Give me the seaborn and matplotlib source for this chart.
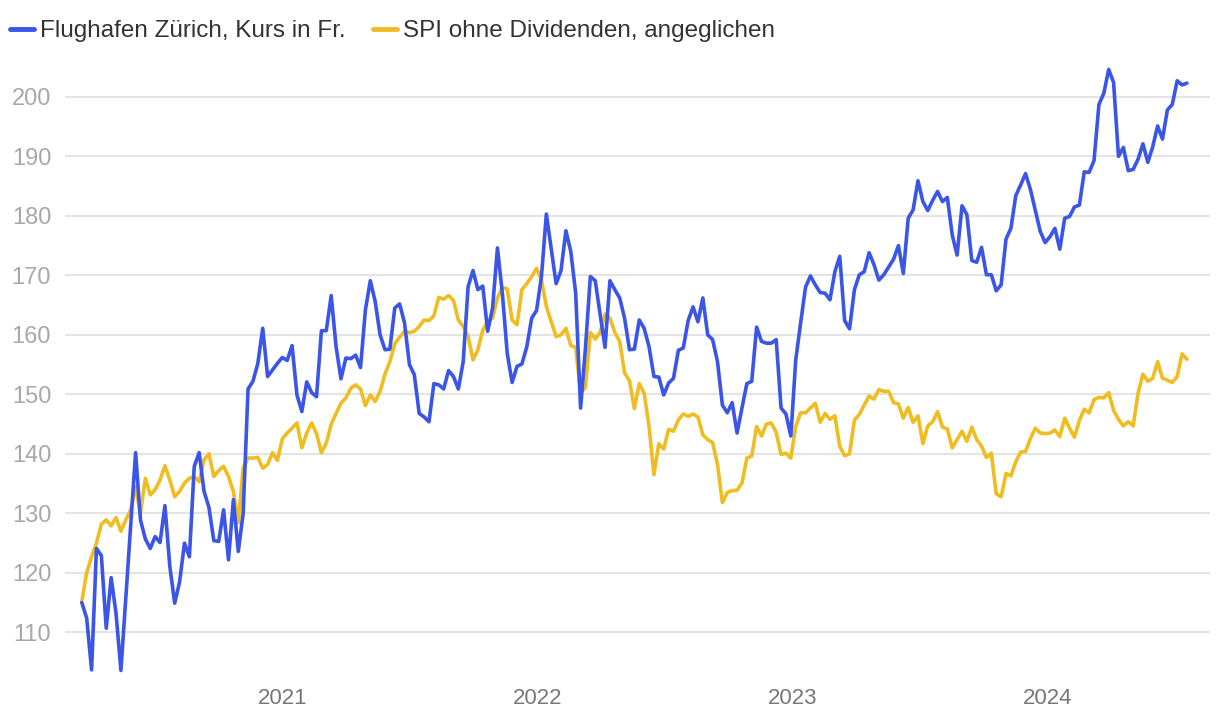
import numpy as np
import pandas as pd
import matplotlib
matplotlib.use("Agg")
import matplotlib.pyplot as plt
import seaborn as sns

# weekly closes (Fridays)
dates = pd.date_range("2020-03-20", "2024-07-19", freq="7D")

flughafen = [
    115.0, 112.4, 103.7, 124.1, 122.9, 110.7, 119.2, 113.2, 103.6, 115.8,
    127.8, 140.2, 128.9, 125.7, 124.1, 126.1, 125.1, 131.3, 121.1, 114.9,
    118.5, 125.0, 122.7, 137.9, 140.2, 133.7, 131.0, 125.4, 125.3, 130.6,
    122.2, 132.3, 123.6, 130.0, 150.9, 152.2, 155.2, 161.1, 153.0, 154.1,
    155.2, 156.2, 155.7, 158.2, 149.9, 147.1, 152.1, 150.3, 149.6, 160.7,
    160.7, 166.6, 158.0, 152.6, 156.1, 156.0, 156.6, 154.5, 164.2, 169.1,
    165.6, 160.0, 157.5, 157.6, 164.5, 165.2, 162.0, 155.0, 153.3, 146.8,
    146.2, 145.4, 151.8, 151.6, 150.9, 154.0, 153.0, 150.9, 155.5, 168.1,
    170.8, 167.6, 168.2, 160.6, 164.5, 174.6, 167.0, 156.9, 152.0, 154.7,
    155.1, 158.0, 162.8, 164.1, 169.8, 180.3, 174.4, 168.6, 170.8, 177.5,
    174.0, 167.0, 147.7, 157.8, 169.8, 169.1, 163.4, 157.9, 169.1, 167.6,
    166.2, 162.8, 157.5, 157.6, 162.5, 161.1, 158.0, 153.0, 152.9, 149.9,
    151.9, 152.7, 157.4, 157.8, 162.4, 164.7, 162.2, 166.2, 160.0, 159.2,
    155.5, 148.2, 146.9, 148.6, 143.5, 147.7, 151.8, 152.2, 161.3, 158.9,
    158.6, 158.6, 159.2, 147.7, 146.7, 143.0, 155.8, 162.0, 168.0, 169.9,
    168.4, 167.1, 167.0, 165.9, 170.6, 173.2, 162.4, 161.0, 167.6, 170.1,
    170.6, 173.8, 171.8, 169.2, 170.1, 171.4, 172.7, 175.0, 170.3, 179.6,
    181.0, 185.9, 182.4, 180.9, 182.6, 184.1, 182.4, 183.1, 176.8, 173.4,
    181.7, 180.2, 172.5, 172.2, 174.7, 170.1, 170.1, 167.4, 168.4, 176.1,
    177.9, 183.4, 185.2, 187.1, 184.4, 180.9, 177.4, 175.5, 176.5, 177.9,
    174.4, 179.6, 179.9, 181.5, 181.8, 187.4, 187.3, 189.3, 198.7, 200.6,
    204.6, 202.4, 190.0, 191.5, 187.6, 187.8, 189.5, 192.1, 189.0, 191.6,
    195.1, 192.9, 197.8, 198.7, 202.7, 202.0, 202.3,
]

spi = [
    115.2, 120.0, 122.7, 125.0, 128.2, 128.9, 127.9, 129.3, 127.0, 128.9,
    130.6, 134.5, 130.0, 135.9, 133.1, 134.0, 135.6, 138.0, 135.6, 132.8,
    133.7, 135.1, 135.9, 136.2, 135.3, 139.0, 140.0, 136.2, 137.2, 137.9,
    136.2, 133.7, 128.4, 137.6, 139.3, 139.3, 139.4, 137.6, 138.2, 140.2,
    138.9, 142.5, 143.5, 144.3, 145.2, 141.0, 143.5, 145.2, 143.4, 140.2,
    141.8, 145.0, 146.8, 148.5, 149.4, 151.0, 151.6, 150.9, 148.1, 149.9,
    148.8, 150.5, 153.4, 155.5, 158.5, 159.6, 160.6, 160.4, 160.6, 161.4,
    162.5, 162.4, 163.2, 166.3, 166.0, 166.6, 165.8, 162.5, 161.4, 159.7,
    155.8, 157.5, 160.8, 162.2, 162.8, 166.2, 168.0, 167.7, 162.5, 161.7,
    167.6, 168.6, 169.8, 171.2, 169.2, 164.8, 162.2, 159.7, 160.0, 161.1,
    158.2, 157.9, 150.2, 151.2, 160.4, 159.3, 160.4, 163.5, 162.8, 160.4,
    158.9, 153.6, 152.3, 147.6, 151.8, 150.2, 144.6, 136.5, 141.7, 140.8,
    144.1, 143.8, 145.7, 146.7, 146.3, 146.7, 146.2, 143.2, 142.4, 141.9,
    138.2, 131.8, 133.5, 133.8, 133.9, 135.1, 139.3, 139.6, 144.6, 143.0,
    145.0, 145.2, 143.6, 139.9, 140.1, 139.3, 144.6, 146.9, 146.9, 147.7,
    148.5, 145.3, 146.8, 145.8, 146.4, 141.3, 139.7, 140.0, 145.7, 146.6,
    148.2, 149.7, 149.2, 150.8, 150.5, 150.5, 148.6, 148.4, 146.0, 147.8,
    145.3, 146.4, 141.7, 144.7, 145.4, 147.1, 144.5, 144.2, 141.0, 142.4,
    143.8, 142.1, 144.5, 142.4, 141.3, 139.4, 140.1, 133.3, 132.8, 136.7,
    136.3, 138.7, 140.3, 140.4, 142.6, 144.3, 143.5, 143.4, 143.5, 144.0,
    142.9, 146.0, 144.3, 142.8, 145.6, 147.5, 146.9, 149.1, 149.5, 149.4,
    150.3, 147.3, 145.8, 144.7, 145.4, 144.7, 150.2, 153.4, 152.2, 152.7,
    155.5, 152.7, 152.4, 152.0, 153.0, 156.8, 155.9,
]

labels = ["Flughafen Zürich, Kurs in Fr.", "SPI ohne Dividenden, angeglichen"]
colors = ["#3a55e8", "#efbd22"]
yticks = [110, 120, 130, 140, 150, 160, 170, 180, 190, 200]
years = ["2021", "2022", "2023", "2024"]

df = pd.DataFrame({"Datum": np.tile(dates, 2),
                   "Wert": flughafen + spi,
                   "Serie": [labels[0]] * len(dates) + [labels[1]] * len(dates)})

sns.set_theme(style="white")
plt.rcParams["font.family"] = ["Liberation Sans", "DejaVu Sans"]

fig = plt.figure(figsize=(12.2, 7.16), dpi=100)
ax = fig.add_axes([0.0533, 0.0503, 0.9385, 0.866])

# yellow first so the blue line sits on top
sns.lineplot(data=df, x="Datum", y="Wert", hue="Serie", hue_order=labels[::-1],
             palette=colors[::-1], linewidth=2.6, ax=ax)

handles, labs = ax.get_legend_handles_labels()
ax.get_legend().remove()
fig.legend(handles[::-1], labs[::-1], loc="upper left", bbox_to_anchor=(0.008, 0.972),
           ncol=2, frameon=False, fontsize=17.5, handlelength=1.0, handletextpad=0.25,
           columnspacing=1.1, borderpad=0, borderaxespad=0, labelcolor="#333333")
for h in fig.legends[0].get_lines():
    h.set_linewidth(3.5)

ax.set_ylim(102.0, 206.2)
ax.set_xlim(pd.Timestamp("2020-02-25"), pd.Timestamp("2024-08-21"))
ax.set_yticks(yticks)
ax.set_xticks([pd.Timestamp(y + "-01-01") for y in years])
ax.set_xticklabels(years)
ax.grid(axis="y", color="#e4e4e4", linewidth=1.5)
ax.grid(axis="x", visible=False)
ax.set_axisbelow(True)
ax.tick_params(axis="y", labelsize=17, labelcolor="#a8a8a8", pad=10, length=0)
ax.tick_params(axis="x", labelsize=16, labelcolor="#777777", pad=6, length=0)
ax.set_xlabel("")
ax.set_ylabel("")
for s in ax.spines.values():
    s.set_visible(False)

fig.savefig("out.png", dpi=100)
